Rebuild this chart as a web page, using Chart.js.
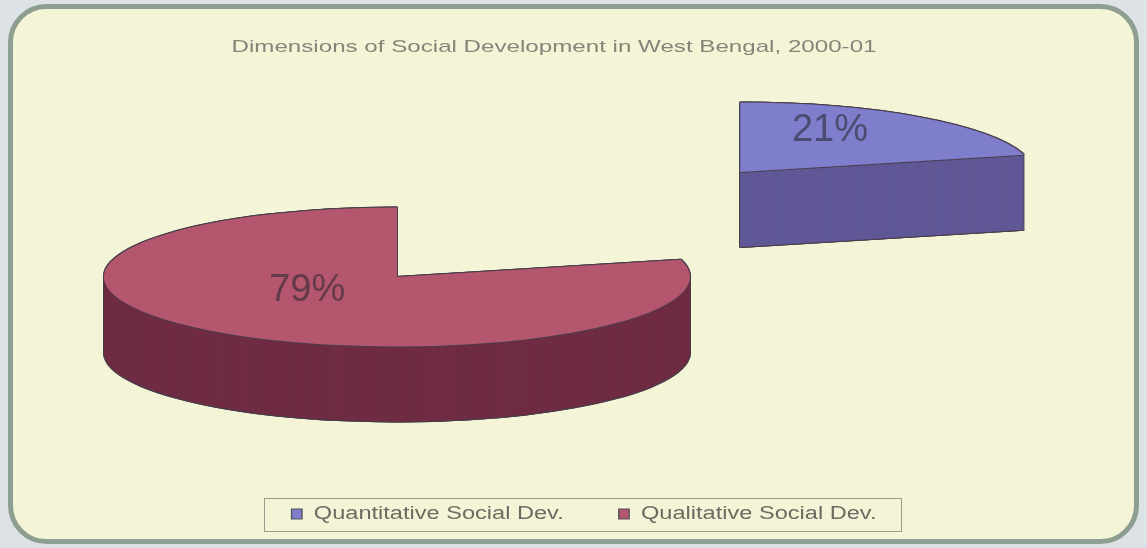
<!DOCTYPE html>
<html>
<head>
<meta charset="utf-8">
<title>Dimensions of Social Development in West Bengal, 2000-01</title>
<script src="https://cdn.jsdelivr.net/npm/chart.js@4/dist/chart.umd.min.js"></script>
<style>
  html, body { margin: 0; padding: 0; background: #dde2e6; }
  canvas { display: block; }
</style>
</head>
<body>
<canvas id="socialDevChart" width="1147" height="548"></canvas>
<script>
const chartTitle = 'Dimensions of Social Development in West Bengal, 2000-01';
const categories = ['Quantitative Social Dev.', 'Qualitative Social Dev.'];
const shares = [21, 79];

const topColors = ['#7e7ecd', '#b5566f'];
const sideColors = ['#605896', '#6f2c43'];
const FONT = "'Liberation Sans', Arial, sans-serif";

// page frame: cream panel with a rounded grey-green border
const framePlugin = {
	id: 'frame',
	beforeDraw(chart) {
		const ctx = chart.ctx;
		ctx.save();
		ctx.fillStyle = '#dde2e6';
		ctx.fillRect(0, 0, chart.width, chart.height);
		ctx.beginPath();
		ctx.roundRect(10.5, 6.5, chart.width - 21, chart.height - 13, 36);
		ctx.fillStyle = '#f4f5d6';
		ctx.fill();
		ctx.lineWidth = 5;
		ctx.strokeStyle = '#8e9e90';
		ctx.stroke();
		ctx.restore();
	}
};

// title and legend are drawn a bit wider than the font, like the old office chart
function drawLegendFrame(legend, toScreen) {
	const boxes = legend.legendHitBoxes;
	if (!boxes || !boxes.length) return;
	const first = boxes[0];
	const last = boxes[boxes.length - 1];
	const mid = first.top + first.height / 2;
	const left = Math.round(toScreen(first.left) - 28) + 0.5;
	const right = Math.round(toScreen(last.left + last.width) + 25) + 0.5;
	const ctx = legend.ctx;
	ctx.save();
	ctx.strokeStyle = '#9b9b90';
	ctx.lineWidth = 1;
	ctx.strokeRect(left, Math.round(mid - 16) + 0.5, right - left, 33);
	ctx.restore();
}

const stretchPlugin = {
	id: 'stretch',
	afterLayout(chart, _args, opts) {
		const wrap = (box, cx, sx, after) => {
			if (!box || box.$stretched) return;
			const draw = box.draw;
			box.draw = function (area) {
				const ctx = chart.ctx;
				const mid = (this.left + this.right) / 2;
				ctx.save();
				ctx.translate(cx, 0);
				ctx.scale(sx, 1);
				ctx.translate(-mid, 0);
				draw.call(this, area);
				ctx.restore();
				if (after) after(this, x => cx + (x - mid) * sx);
			};
			box.$stretched = true;
		};
		wrap(chart.titleBlock, opts.titleX, opts.titleScale);
		wrap(chart.legend, opts.legendX, opts.legendScale, drawLegendFrame);
	}
};

// flat pie squashed into an ellipse, extruded downwards, one slice pulled out
const pie3dPlugin = {
	id: 'pie3d',
	beforeDatasetDraw(chart, args, opts) {
		const ctx = chart.ctx;
		const arcs = args.meta.data;

		const stamp = (arc, i, dx, dy, fill) => {
			const mid = (arc.startAngle + arc.endAngle) / 2;
			const e = opts.explode[i] || 0;
			const saved = arc.options;
			arc.options = Object.assign({}, saved, { backgroundColor: fill, borderWidth: 0 });
			ctx.save();
			ctx.translate(opts.centerX + dx, opts.centerY + dy);
			ctx.scale(1, opts.tilt);
			ctx.translate(Math.cos(mid) * e - arc.x, Math.sin(mid) * e - arc.y);
			arc.draw(ctx);
			ctx.restore();
			arc.options = saved;
		};

		arcs.forEach((arc, i) => {
			for (let d = opts.depth + 1; d >= -1; d--) {
				for (const dx of [-1, 0, 1]) stamp(arc, i, dx, d, opts.edgeColor);
			}
			for (let d = opts.depth; d >= 1; d--) stamp(arc, i, 0, d, opts.sideColors[i]);
			stamp(arc, i, 0, 1, opts.edgeColor);
			stamp(arc, i, 0, 0, arc.options.backgroundColor);
		});

		// percentage labels on the top faces
		const values = chart.data.datasets[args.index].data;
		const total = values.reduce((a, b) => a + b, 0);
		ctx.save();
		ctx.font = opts.labelFont;
		ctx.fillStyle = opts.labelColor;
		ctx.textAlign = 'center';
		ctx.textBaseline = 'middle';
		arcs.forEach((arc, i) => {
			const mid = (arc.startAngle + arc.endAngle) / 2;
			const e = opts.explode[i] || 0;
			const p = arc.tooltipPosition();
			const x = opts.centerX + (p.x - arc.x) + Math.cos(mid) * e;
			const y = opts.centerY + ((p.y - arc.y) + Math.sin(mid) * e) * opts.tilt - opts.labelLift;
			ctx.fillText(Math.round(values[i] / total * 100) + '%', x, y);
		});
		ctx.restore();
		return false;
	}
};

new Chart(document.getElementById('socialDevChart'), {
	type: 'pie',
	data: {
		labels: categories,
		datasets: [{
			data: shares,
			backgroundColor: topColors,
			borderColor: '#55505a',
			borderWidth: 1,
			radius: 293
		}]
	},
	options: {
		responsive: false,
		animation: false,
		events: [],
		layout: { padding: { top: 0, bottom: 15, left: 0, right: 0 } },
		plugins: {
			title: {
				display: true,
				text: chartTitle,
				color: '#85857a',
				font: { family: FONT, size: 17, weight: 'normal' },
				padding: { top: 37, bottom: 8 }
			},
			legend: {
				display: true,
				position: 'bottom',
				labels: {
					color: '#6b6b62',
					font: { family: FONT, size: 18 },
					boxWidth: 8,
					boxHeight: 10,
					padding: 42
				}
			},
			tooltip: { enabled: false },
			stretch: { titleX: 554, titleScale: 1.42, legendX: 584, legendScale: 1.31 },
			pie3d: {
				centerX: 397,
				centerY: 277,
				tilt: 0.2372,
				depth: 75,
				explode: [560, 0],
				sideColors: sideColors,
				edgeColor: '#4a3e4c',
				labelFont: '38px ' + FONT,
				labelColor: 'rgba(45, 40, 50, 0.6)',
				labelLift: 14
			}
		}
	},
	plugins: [framePlugin, stretchPlugin, pie3dPlugin]
});
</script>
</body>
</html>
